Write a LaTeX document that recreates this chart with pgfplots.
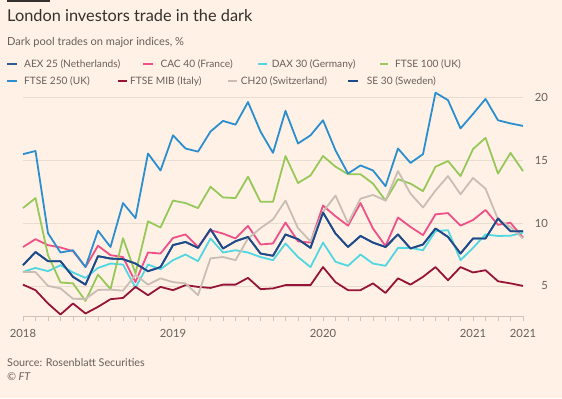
\documentclass[border=0pt]{standalone}
\usepackage{pgfplots}
\pgfplotsset{compat=1.18}
\usepackage{pgfplotstable}
\usetikzlibrary{backgrounds}
\usepackage{fontspec}
\setmainfont{Lato}
\definecolor{bg}{HTML}{FFF1E5}
\definecolor{titlec}{HTML}{33302E}
\definecolor{subc}{HTML}{66605C}
\definecolor{gridc}{HTML}{E9DCD0}
\definecolor{tickc}{HTML}{CFC4BA}
\definecolor{caex}{HTML}{2A5C98}
\definecolor{ccac}{HTML}{EE5087}
\definecolor{cdax}{HTML}{50D7E1}
\definecolor{cfa}{HTML}{96C85A}
\definecolor{cfb}{HTML}{2B8FCF}
\definecolor{cmib}{HTML}{961437}
\definecolor{cch}{HTML}{C8BEB4}
\definecolor{cse}{HTML}{1E4A8A}

\pgfplotstableread{
i  aex   cac   dax   fa    fb    mib   ch    se
0  6.65  8.10  6.12  11.20 15.50 5.10  6.10  6.65
1  7.70  8.72  6.43  12.00 15.75 4.66  6.10  7.70
2  6.97  8.25  6.17  7.45  9.20  3.60  5.00  6.97
3  6.97  8.06  6.65  5.27  7.66  2.72  4.80  6.97
4  5.72  7.77  6.07  5.20  7.84  3.60  3.97  5.72
5  5.10  6.50  5.64  3.80  6.50  2.80  3.96  5.10
6  7.37  8.20  6.43  5.90  9.40  3.33  4.68  7.37
7  7.18  7.45  6.78  4.74  8.10  3.94  4.70  7.18
8  7.13  7.30  6.70  8.80  11.60 4.04  4.62  7.13
9  6.78  5.30  4.84  6.00  10.40 4.92  5.88  6.78
10 6.17  7.66  6.70  10.15 15.55 4.26  5.10  6.17
11 6.50  7.58  6.33  9.65  14.20 4.92  5.60  6.50
12 8.25  8.82  7.05  11.80 17.00 4.66  5.30  8.25
13 8.50  9.10  7.50  11.60 15.95 5.06  5.20  8.50
14 8.03  8.10  6.97  11.20 15.70 4.92  4.26  8.03
15 9.52  9.44  8.78  12.90 17.30 4.84  7.20  9.52
16 7.98  9.17  7.66  12.05 18.15 5.10  7.30  7.98
17 8.56  8.78  7.84  12.00 17.85 5.10  7.05  8.56
18 8.90  9.78  7.66  13.70 19.65 5.64  8.78  8.90
19 7.58  8.30  7.30  11.70 17.30 4.74  9.60  7.58
20 7.40  8.38  7.05  11.70 15.60 4.80  10.30 7.40
21 9.10  10.05 8.38  15.35 18.95 5.06  11.80 9.10
22 8.72  8.55  7.30  13.20 16.35 5.06  9.60  8.72
23 8.03  8.45  6.50  13.80 17.00 5.06  8.55  8.03
24 10.85 11.40 8.45  15.35 18.20 6.50  10.90 10.85
25 9.17  10.55 6.92  14.50 15.80 5.30  12.20 9.17
26 8.10  9.80  6.60  13.90 13.95 4.66  10.00 8.10
27 8.98  11.60 7.50  13.90 14.60 4.66  11.95 8.98
28 8.45  9.57  6.78  13.15 14.20 5.20  12.25 8.45
29 8.10  8.18  6.60  11.80 12.95 4.44  11.80 8.10
30 9.10  10.45 8.03  13.50 15.95 5.60  14.15 9.10
31 7.98  9.70  8.03  13.15 14.80 5.10  12.35 7.98
32 8.30  9.05  7.84  12.55 15.50 5.72  11.25 8.30
33 9.57  10.70 9.36  14.50 20.40 6.50  12.60 9.57
34 8.90  10.80 9.44  14.95 19.80 5.45  13.75 8.90
35 7.58  9.80  7.05  13.75 17.55 6.50  12.30 7.58
36 8.78  10.25 8.03  15.90 18.70 6.07  13.60 8.78
37 8.78  11.05 9.10  16.80 19.90 6.25  12.75 8.78
38 10.37 9.87  8.98  13.95 18.20 5.37  10.30 10.37
39 9.36  10.03 9.00  15.60 17.95 5.20  9.70  9.36
40 9.36  8.85  9.25  14.15 17.75 5.00  8.78  9.36
}\data

\begin{document}
\begin{tikzpicture}[x=1bp,y=1bp]
\begin{axis}[
  scale only axis,
  width=500bp, height=224.6bp,
  xmin=0, xmax=40, ymin=2.6, ymax=20.5,
  axis x line*=bottom, axis y line*=right,
  x axis line style={draw=tickc, line width=0.8bp, -},
  y axis line style={draw=none, -},
  xtick={0,12,24,36,40}, xticklabels={2018,2019,2020,2021,2021},
  minor xtick={1,...,39},
  tick align=outside, major tick length=5bp, minor tick length=5bp,
  xtick style={draw=tickc, line width=0.7bp},
  minor tick style={draw=tickc, line width=0.7bp},
  ytick={5,10,15,20}, ytick style={draw=none},
  ymajorgrids, grid style={draw=gridc, line width=0.7bp},
  yticklabel style={anchor=east, inner sep=0pt, xshift=20bp},
  xticklabel style={yshift=-5bp},
  ticklabel style={font=\fontsize{11.3}{13}\selectfont, text=subc},
  /pgf/number format/assume math mode=true,
  clip=false,
  every axis plot/.append style={line width=1.8bp, line join=round, mark=none},
]
\coordinate (O) at (rel axis cs:0,0);
\addplot[caex] table[x=i,y=aex]{\data};
\addplot[ccac] table[x=i,y=cac]{\data};
\addplot[cdax] table[x=i,y=dax]{\data};
\addplot[cfa] table[x=i,y=fa]{\data};
\addplot[cfb] table[x=i,y=fb]{\data};
\addplot[cmib] table[x=i,y=mib]{\data};
\addplot[cch] table[x=i,y=ch]{\data};
\addplot[cse] table[x=i,y=se]{\data};
\end{axis}
\begin{scope}[on background layer, shift={(O)}, shift={(-23,-82)}]
\fill[bg] (0,0) rectangle (562,398);
\end{scope}
\begin{scope}[shift={(O)}, shift={(-23,-82)}]
\fill[titlec] (7,396.5) rectangle (50,398);
\node[anchor=base west, inner sep=0, font=\fontsize{16.4}{19}\selectfont, text=titlec] at (7,376.3) {London investors trade in the dark};
\node[anchor=base west, inner sep=0, font=\fontsize{11.1}{13}\selectfont, text=subc] at (7,353) {Dark pool trades on major indices, \%};
\begin{scope}[every node/.style={anchor=base west, inner sep=0, font=\fontsize{10.2}{12}\selectfont, text=subc}]
\draw[caex, line width=2.2bp] (7.3,334) -- (16.7,334); \node at (24,330.7) {AEX 25 (Netherlands)};
\draw[ccac, line width=2.2bp] (143.3,334) -- (153.3,334); \node at (160.3,330.7) {CAC 40 (France)};
\draw[cdax, line width=2.2bp] (258.3,334) -- (266.7,334); \node at (271.7,330.7) {DAX 30 (Germany)};
\draw[cfa, line width=2.2bp] (380,334) -- (388.3,334); \node at (395,330.7) {FTSE 100 (UK)};
\draw[cfb, line width=2.2bp] (7.3,317.3) -- (16.7,317.3); \node at (24,314) {FTSE 250 (UK)};
\draw[cmib, line width=2.2bp] (118.3,317.3) -- (127,317.3); \node at (130,314) {FTSE MIB (Italy)};
\draw[cch, line width=2.2bp] (227.7,317.3) -- (236.7,317.3); \node at (240.7,314) {CH20 (Switzerland)};
\draw[cse, line width=2.2bp] (348.3,317.3) -- (357.7,317.3); \node at (366.7,314) {SE 30 (Sweden)};
\node[font=\fontsize{10.8}{13}\selectfont] at (7,31.3) {Source: Rosenblatt Securities};
\node[font=\fontsize{10.8}{13}\selectfont] at (7,18) {\itshape © FT};
\end{scope}
\end{scope}
\end{tikzpicture}
\end{document}
